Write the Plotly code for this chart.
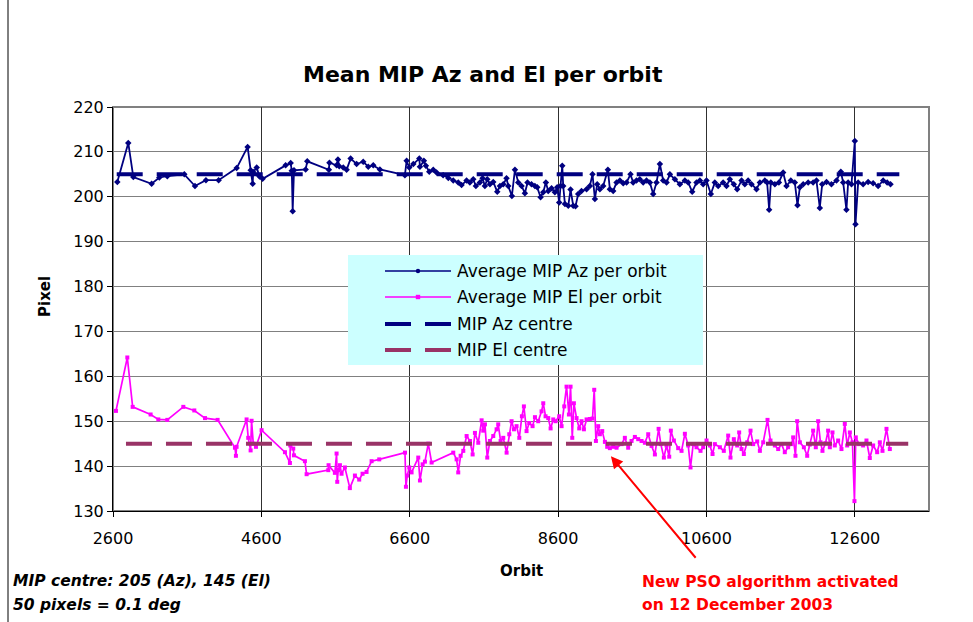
import plotly.graph_objects as go

# ---- data -------------------------------------------------------------
az_orbit = [2658, 2806, 2874, 3121, 3224, 3332, 3561, 3705, 3853, 4024, 4267, 4415, 4456, 4483, 4490,
            4537, 4575, 4617, 4927, 4995, 5010, 5022, 5040, 5197, 5219, 5510, 5518, 5614, 5632, 5650,
            5704, 5749, 5803, 5884, 5973, 6041, 6108, 6198, 6535, 6558, 6594, 6648, 6729, 6738, 6791,
            6818, 6863, 6917, 6962, 7050, 7120, 7187, 7254, 7299, 7366, 7411, 7456, 7492, 7546, 7582,
            7613, 7645, 7681, 7726, 7780, 7816, 7861, 7905, 7928, 7977, 8018, 8063, 8108, 8152, 8188,
            8242, 8287, 8319, 8364, 8400, 8435, 8467, 8512, 8557, 8588, 8615, 8633, 8656, 8669, 8692,
            8737, 8768, 8804, 8835, 8871, 8916, 8984, 9028, 9064, 9096, 9127, 9163, 9208, 9271, 9298,
            9343, 9388, 9433, 9478, 9523, 9576, 9612, 9657, 9702, 9747, 9792, 9837, 9882, 9927, 9972,
            10017, 10062, 10107, 10174, 10242, 10309, 10354, 10408, 10466, 10511, 10556, 10601, 10659,
            10713, 10758, 10825, 10870, 10915, 10969, 11014, 11073, 11117, 11162, 11207, 11275, 11320,
            11387, 11418, 11445, 11468, 11522, 11576, 11634, 11679, 11737, 11791, 11827, 11859, 11904,
            11971, 12038, 12083, 12128, 12160, 12218, 12285, 12353, 12411, 12443, 12487, 12510, 12555,
            12600, 12609, 12645, 12712, 12779, 12847, 12914, 12982, 13036, 13081]
az_pixel = [203.3, 212.0, 204.4, 202.9, 204.3, 204.6, 205.0, 202.4, 203.7, 203.7, 206.4, 211.1, 205.9, 202.9, 205.5,
            206.5, 204.5, 204.0, 207.0, 207.5, 205.8, 196.8, 205.9, 206.1, 207.9, 206.0, 207.6, 207.0, 208.3, 206.8,
            206.5, 206.0, 208.5, 207.3, 207.8, 206.7, 207.0, 206.1, 204.8, 208.0, 206.5, 207.3, 208.5, 206.7, 208.0,
            206.9, 205.6, 206.0, 205.4, 204.8, 204.2, 203.6, 203.2, 202.6, 203.6, 203.2, 203.9, 202.4, 203.2, 204.1,
            202.4, 203.9, 202.8, 203.3, 201.1, 202.4, 202.8, 204.1, 202.4, 200.2, 206.0, 203.2, 202.4, 200.8, 203.2,
            202.8, 202.4, 202.1, 199.9, 201.0, 203.2, 201.3, 201.9, 201.0, 202.1, 198.7, 202.4, 206.9, 202.4, 198.4,
            198.0, 201.6, 198.0, 197.9, 200.6, 201.3, 201.7, 202.4, 205.0, 199.5, 202.8, 201.7, 202.4, 206.0, 201.7,
            201.3, 203.2, 203.6, 203.0, 203.2, 205.0, 203.2, 203.6, 203.9, 203.2, 203.6, 203.2, 200.6, 203.2, 207.3,
            203.6, 203.2, 205.0, 203.9, 202.8, 203.6, 203.2, 201.1, 203.2, 203.6, 202.8, 203.6, 200.6,
            203.2, 202.4, 203.2, 202.4, 203.9, 202.8, 201.7, 203.6, 202.8, 203.6, 202.8, 201.7, 203.2,
            203.6, 203.2, 197.1, 203.2, 202.8, 203.2, 205.4, 202.4, 203.6, 203.2, 198.1, 202.1, 202.8,
            203.2, 203.2, 203.6, 197.5, 202.8, 203.3, 202.8, 203.6, 205.6, 203.2, 197.1, 203.2, 202.8,
            212.4, 193.9, 203.2, 202.8, 203.3, 203.0, 202.4, 203.6, 203.2, 202.8]

el_orbit = [2640, 2793, 2865, 3107, 3211, 3332, 3548, 3696, 3840, 4010, 4244, 4257, 4266, 4401, 4423,
            4455, 4468, 4491, 4527, 4603, 4918, 4985, 4990, 5030, 5039, 5187, 5210, 5502, 5506, 5591,
            5614, 5623, 5636, 5659, 5681, 5726, 5793, 5861, 5919, 5964, 6018, 6086, 6189, 6536, 6549,
            6567, 6594, 6625, 6715, 6738, 6774, 6805, 6850, 6895, 7187, 7232, 7254, 7286, 7322, 7367,
            7412, 7448, 7479, 7524, 7569, 7591, 7614, 7645, 7681, 7726, 7771, 7793, 7825, 7861, 7906,
            7942, 7973, 8005, 8040, 8077, 8112, 8139, 8175, 8211, 8256, 8288, 8332, 8377, 8400, 8431,
            8467, 8499, 8535, 8566, 8615, 8647, 8683, 8714, 8746, 8768, 8791, 8813, 8849, 8885, 8916,
            8948, 8984, 9028, 9064, 9087, 9110, 9141, 9163, 9195, 9231, 9262, 9298, 9343, 9388, 9456,
            9500, 9545, 9590, 9635, 9680, 9725, 9770, 9815, 9860, 9905, 9955, 9985, 10026, 10062, 10098,
            10120, 10161, 10219, 10264, 10309, 10354, 10385, 10421, 10466, 10520, 10556, 10601, 10646,
            10682, 10713, 10781, 10834, 10893, 10924, 10969, 11014, 11041, 11073, 11104, 11149, 11194,
            11230, 11284, 11320, 11365, 11423, 11463, 11522, 11567, 11612, 11656, 11701, 11746, 11769,
            11800, 11823, 11859, 11913, 11958, 11993, 12038, 12074, 12106, 12137, 12164, 12205, 12240,
            12263, 12299, 12330, 12375, 12420, 12465, 12497, 12533, 12568, 12595, 12613, 12658, 12712,
            12757, 12802, 12847, 12901, 12937, 12973, 13027, 13072]
el_pixel = [152.3, 164.2, 153.2, 151.5, 150.4, 150.3, 153.2, 152.4, 150.7, 150.3, 144.1, 142.3, 144.3, 150.4, 146.3,
            143.5, 150.1, 145.0, 144.3, 148.0, 143.1, 140.7, 144.6, 143.9, 142.4, 141.1, 138.2, 139.1, 140.2, 138.5,
            142.8, 136.5, 139.1, 140.2, 138.3, 139.7, 135.1, 137.9, 137.0, 138.3, 138.7, 141.1, 141.5, 143.0, 135.4,
            137.9, 139.7, 138.6, 141.9, 136.8, 140.4, 141.0, 145.0, 140.8, 143.0, 141.5, 138.6, 142.3, 143.4, 146.7,
            145.6, 142.6, 147.4, 145.2, 150.2, 147.9, 149.3, 141.9, 145.6, 146.7, 148.2, 149.3, 145.6, 146.3, 143.0,
            147.1, 150.0, 148.2, 148.9, 146.3, 151.1, 153.3, 147.8, 149.6, 148.9, 150.9, 150.0, 152.2, 154.0, 151.1,
            150.7, 148.4, 150.4, 150.0, 151.1, 148.9, 153.3, 157.7, 151.5, 157.7, 146.3, 154.0, 150.7, 148.4, 150.0,
            148.2, 150.4, 150.5, 150.6, 157.0, 145.6, 148.9, 147.1, 147.8, 145.4, 144.3, 144.0, 144.3, 144.1, 144.9,
            146.3, 144.1, 145.6, 146.5, 146.0, 145.6, 145.2, 147.1, 144.5, 142.6, 148.3, 144.9, 141.9, 144.6, 142.1,
            147.9, 145.7, 144.0, 143.4, 147.2, 144.6, 139.7, 144.9, 144.2, 143.4, 144.2, 145.7, 144.6,
            142.7, 144.9, 144.2, 143.4, 146.8, 141.9, 146.0, 144.6, 147.5, 143.8, 142.7, 145.3, 147.9,
            144.9, 145.5, 143.4, 145.3, 150.3, 145.7, 144.6, 143.8, 144.9, 143.1, 144.2, 144.9, 146.4,
            142.3, 150.0, 145.3, 144.2, 142.3, 144.8, 147.9, 144.2, 150.0, 145.3, 143.4, 145.1, 147.9,
            144.2, 147.5, 144.6, 145.7, 143.8, 149.4, 144.6, 147.5, 145.3, 132.2, 146.4, 144.9, 144.6,
            145.7, 141.8, 144.6, 143.1, 145.3, 143.4, 148.3, 143.8]

# MIP centre references (pixels) and the orbit span they are drawn over
az_centre = 205
el_centre = 145
az_centre_span = [2650, 13200]
el_centre_span = [2775, 13320]

# orbit at which the new PSO algorithm went live, and the pixel it points to
pso_orbit = 9312
pso_pixel = 142.2

x_ticks = [2600, 4600, 6600, 8600, 10600, 12600]
y_ticks = [130, 140, 150, 160, 170, 180, 190, 200, 210, 220]

series_names = ["Average MIP Az per orbit", "Average MIP El per orbit",
                "MIP Az centre", "MIP El centre"]

# ---- styling ----------------------------------------------------------
AZ_COLOR = "#000080"
EL_COLOR = "#FF00FF"
AZC_COLOR = "#000080"
ELC_COLOR = "#993366"
FONT = "DejaVu Sans"

W, H = 973, 622
L, R, T, B = 113, 929, 107, 511


def fx(p):
    """page pixel -> paper x"""
    return (p - L) / (R - L)


def fy(p):
    """page pixel -> paper y"""
    return (B - p) / (B - T)


fig = go.Figure()

fig.add_trace(go.Scatter(
    x=az_orbit, y=az_pixel, mode="lines+markers", name=series_names[0],
    line=dict(color=AZ_COLOR, width=1.8),
    marker=dict(symbol="diamond", size=5, color=AZ_COLOR),
))
fig.add_trace(go.Scatter(
    x=el_orbit, y=el_pixel, mode="lines+markers", name=series_names[1],
    line=dict(color=EL_COLOR, width=1.7),
    marker=dict(symbol="square", size=4, color=EL_COLOR),
))
fig.add_trace(go.Scatter(
    x=az_centre_span, y=[az_centre] * 2, mode="lines", name=series_names[2],
    line=dict(color=AZC_COLOR, width=4, dash="26px,14px"),
))
fig.add_trace(go.Scatter(
    x=el_centre_span, y=[el_centre] * 2, mode="lines", name=series_names[3],
    line=dict(color=ELC_COLOR, width=4, dash="26px,14px"),
))

shapes = []
annotations = []

# plot-area frame
shapes.append(dict(type="rect", xref="paper", yref="paper", x0=0, x1=1, y0=0, y1=1,
                   line=dict(color="#808080", width=2), layer="below"))
# outer chart border (left edge)
shapes.append(dict(type="line", xref="paper", yref="paper",
                   x0=fx(8), x1=fx(8), y0=fy(0), y1=fy(H),
                   line=dict(color="#000000", width=1)))

# legend box
shapes.append(dict(type="rect", xref="paper", yref="paper",
                   x0=fx(348), x1=fx(703), y0=fy(365), y1=fy(255),
                   fillcolor="#CCFFFF", line=dict(width=0), layer="above"))
legend_rows = [271, 297, 324, 350]
legend_styles = [
    dict(color=AZ_COLOR, width=1.6, mark="diamond"),
    dict(color=EL_COLOR, width=1.6, mark="square"),
    dict(color=AZC_COLOR, width=4, mark=None),
    dict(color=ELC_COLOR, width=4, mark=None),
]
for row, name, st in zip(legend_rows, series_names, legend_styles):
    if st["mark"] is None:
        # dashed sample: two dashes with a gap
        for a, b in [(385, 411), (425, 451)]:
            shapes.append(dict(type="line", xref="paper", yref="paper",
                               x0=fx(a), x1=fx(b), y0=fy(row), y1=fy(row),
                               line=dict(color=st["color"], width=st["width"]), layer="above"))
    else:
        shapes.append(dict(type="line", xref="paper", yref="paper",
                           x0=fx(385), x1=fx(451), y0=fy(row), y1=fy(row),
                           line=dict(color=st["color"], width=st["width"]), layer="above"))
        s = 2.2
        shapes.append(dict(type="rect" if st["mark"] == "square" else "circle",
                           xref="paper", yref="paper",
                           x0=fx(418 - s), x1=fx(418 + s), y0=fy(row + s), y1=fy(row - s),
                           fillcolor=st["color"], line=dict(width=0), layer="above"))
    annotations.append(dict(xref="paper", yref="paper", x=fx(455), y=fy(row),
                            xanchor="left", yanchor="middle", showarrow=False,
                            text=name, font=dict(family=FONT, size=17, color="#000000")))

# title and axis titles
annotations.append(dict(xref="paper", yref="paper", x=fx(483), y=fy(75),
                        xanchor="center", yanchor="middle", showarrow=False,
                        text="<b>Mean MIP Az and El per orbit</b>",
                        font=dict(family=FONT, size=22, color="#000000")))
annotations.append(dict(xref="paper", yref="paper", x=fx(45), y=fy(297),
                        xanchor="center", yanchor="middle", showarrow=False, textangle=-90,
                        text="<b>Pixel</b>", font=dict(family=FONT, size=15, color="#000000")))
annotations.append(dict(xref="paper", yref="paper", x=fx(521), y=fy(571),
                        xanchor="center", yanchor="middle", showarrow=False,
                        text="<b>Orbit</b>", font=dict(family=FONT, size=15, color="#000000")))

# notes
annotations.append(dict(xref="paper", yref="paper", x=fx(11), y=fy(581),
                        xanchor="left", yanchor="middle", showarrow=False,
                        text="<b><i>MIP centre: 205 (Az), 145 (El)</i></b>",
                        font=dict(family=FONT, size=15.5, color="#000000")))
annotations.append(dict(xref="paper", yref="paper", x=fx(11), y=fy(605),
                        xanchor="left", yanchor="middle", showarrow=False,
                        text="<b><i>50 pixels = 0.1 deg</i></b>",
                        font=dict(family=FONT, size=15.5, color="#000000")))
annotations.append(dict(xref="paper", yref="paper", x=fx(640), y=fy(582),
                        xanchor="left", yanchor="middle", showarrow=False,
                        text="<b>New PSO algorithm activated</b>",
                        font=dict(family=FONT, size=15.5, color="#FF0000")))
annotations.append(dict(xref="paper", yref="paper", x=fx(640), y=fy(605),
                        xanchor="left", yanchor="middle", showarrow=False,
                        text="<b>on 12 December 2003</b>",
                        font=dict(family=FONT, size=15.5, color="#FF0000")))
# arrow to the switch-over orbit
annotations.append(dict(x=pso_orbit, y=pso_pixel, xref="x", yref="y", text="",
                        showarrow=True, arrowhead=2, arrowsize=1.2, arrowwidth=2,
                        arrowcolor="#FF0000", ax=86, ay=103))

fig.update_layout(
    width=W, height=H, autosize=False,
    margin=dict(l=L, r=W - R, t=T, b=H - B, pad=0),
    paper_bgcolor="#FFFFFF", plot_bgcolor="#FFFFFF",
    showlegend=False,
    shapes=shapes, annotations=annotations,
    font=dict(family=FONT, size=15, color="#000000"),
)
fig.update_xaxes(
    range=[2600, 13600], tickvals=x_ticks, ticktext=[str(v) for v in x_ticks],
    showgrid=True, gridcolor="#303030", gridwidth=1, zeroline=False,
    showline=True, linecolor="#000000", linewidth=1,
    ticks="outside", ticklen=5, tickcolor="#000000", ticklabelstandoff=8,
    tickfont=dict(family=FONT, size=16, color="#000000"),
)
fig.update_yaxes(
    range=[130, 220], tickvals=y_ticks,
    showgrid=True, gridcolor="#808080", gridwidth=1, zeroline=False,
    showline=True, linecolor="#000000", linewidth=1,
    ticks="outside", ticklen=5, tickcolor="#000000",
    tickfont=dict(family=FONT, size=16, color="#000000"),
)

fig.write_html("out.html")
